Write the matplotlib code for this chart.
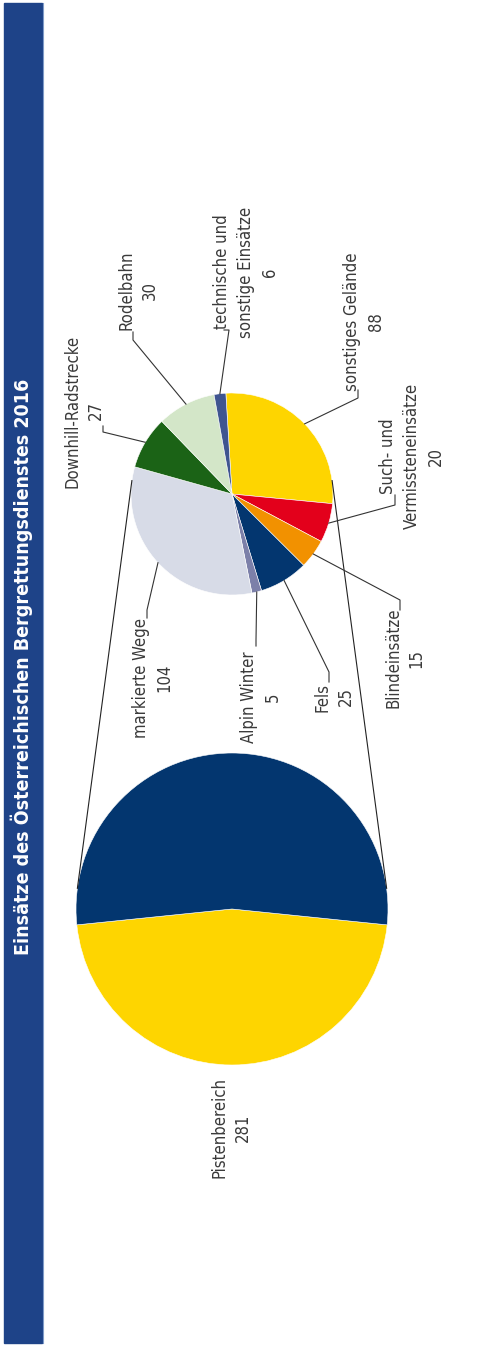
import numpy as np
import matplotlib
matplotlib.use('Agg')
import matplotlib.pyplot as plt

plt.rcParams['font.family'] = ['DejaVu Sans']
plt.rcParams['font.stretch'] = 'condensed'

title = 'Einsätze des Österreichischen Bergrettungsdienstes 2016'

# main pie
main_label = 'Pistenbereich'
main_value = 281

# breakdown of the rest (small pie), clockwise from the top
small_labels = ['sonstiges Gelände', 'Such- und\nVermissteneinsätze', 'Blindeinsätze', 'Fels',
                'Alpin Winter', 'markierte Wege', 'Downhill-Radstrecke', 'Rodelbahn',
                'technische und\nsonstige Einsätze']
small_values = [88, 20, 15, 25, 5, 104, 27, 30, 6]

small_colors = ['#FED500', '#E3001B', '#F29100', '#03366F', '#7C80A9',
                '#D7DBE7', '#1B6316', '#D3E6C8', '#3F5590']
main_colors = ['#FED500', '#03366F']

# layout in pixels (y down), the chart is turned by 90 degrees
W, H = 484, 1347
big_c, big_r = (232, 909), 156
small_c, small_r = (232, 494), 101
label_pos = [(364, 322), (412, 456), (405, 658), (334, 697), (261, 697),
             (153, 678), (84, 411), (138, 290), (246, 272)]
elbows = [((358, 398), (358, 390)), ((395, 505), (395, 495)), ((400, 600), (400, 610)),
          ((329, 672), (329, 682)), ((256, 640), (256, 646)), ((147, 610), (147, 618)),
          ((103, 432), (103, 426)), ((133, 340), (133, 332)), ((229, 330), (224, 330))]

fig = plt.figure(figsize=(W / 100, H / 100), dpi=100)
ax = fig.add_axes([0, 0, 1, 1])

rest = sum(small_values)
total = main_value + rest

# y axis is inverted below, so data angles are mirrored on screen
big_start = 90 - main_value / total * 180
ax.pie([main_value, rest], colors=main_colors, center=big_c, radius=big_r,
       startangle=big_start, counterclock=True,
       wedgeprops=dict(edgecolor='white', linewidth=0.4))

small_start = -93.5
ax.pie(small_values, colors=small_colors, center=small_c, radius=small_r,
       startangle=small_start, counterclock=True,
       wedgeprops=dict(edgecolor='white', linewidth=0.4))

ax.set_xlim(0, W)
ax.set_ylim(H, 0)
ax.set_aspect('equal')
ax.axis('off')

# connector lines, tangent to both circles
phi = np.arcsin((big_r - small_r) / (big_c[1] - small_c[1]))
for a in [np.pi - phi, phi]:
    p1 = (big_c[0] + big_r * np.cos(a), big_c[1] - big_r * np.sin(a))
    p2 = (small_c[0] + small_r * np.cos(a), small_c[1] - small_r * np.sin(a))
    ax.plot([p1[0], p2[0]], [p1[1], p2[1]], color='#222222', lw=0.8)

# labels with leader lines
cum = np.cumsum([0] + small_values)
txt_color = '#3a3a3a'
lab_size = 12
for i, (lab, val) in enumerate(zip(small_labels, small_values)):
    mid = -small_start - (cum[i] + cum[i + 1]) / 2 / rest * 360
    a = np.radians(mid)
    anchor = (small_c[0] + small_r * np.cos(a), small_c[1] - small_r * np.sin(a))
    e1, e2 = elbows[i]
    ax.plot([anchor[0], e1[0], e2[0]], [anchor[1], e1[1], e2[1]], color='#333333', lw=0.8)
    ax.text(label_pos[i][0], label_pos[i][1], f'{lab}\n{val}', rotation=90,
            ha='center', va='center', multialignment='center', linespacing=1.4,
            fontsize=lab_size, color=txt_color)

ax.text(231, 1128, f'{main_label}\n{main_value}', rotation=90, ha='center', va='center',
        multialignment='center', linespacing=1.4, fontsize=lab_size, color=txt_color)

# title bar
ax.add_patch(plt.Rectangle((4, 3), 38, 1340, color='#1E4388', zorder=0))
ax.plot([42.5, 42.5], [3, 1343], color='#7F9BC8', lw=0.8)
ax.text(22, 667, title, rotation=90, ha='center', va='center',
        fontsize=14, fontweight='bold', color='white')

fig.savefig('out.png', dpi=100)
